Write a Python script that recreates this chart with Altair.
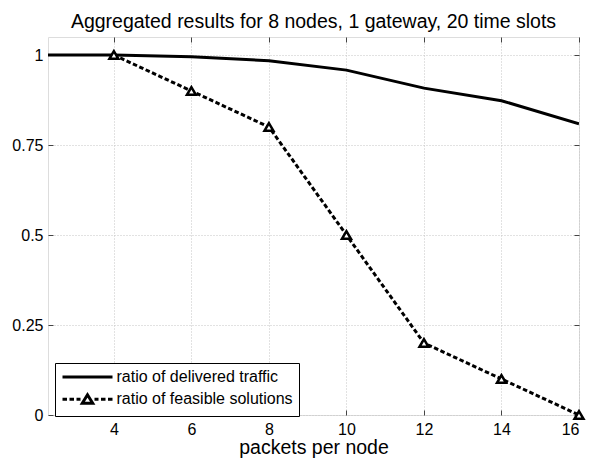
import altair as alt
import pandas as pd

# ---- data ----
x_delivered = [2, 4, 6, 8, 10, 12, 14, 16]
y_delivered = [1.0, 1.0, 0.995, 0.984, 0.958, 0.908, 0.873, 0.809]
x_feasible = [4, 6, 8, 10, 12, 14, 16]
y_feasible = [1.0, 0.9, 0.8, 0.5, 0.2, 0.1, 0.0]
series_names = ["ratio of delivered traffic", "ratio of feasible solutions"]
x_ticks = [4, 6, 8, 10, 12, 14, 16]
y_ticks = [0, 0.25, 0.5, 0.75, 1]
title_text = "Aggregated results for 8 nodes, 1 gateway, 20 time slots"
x_title = "packets per node"

FONT = "Liberation Sans"

df_d = pd.DataFrame({"x": x_delivered, "y": y_delivered, "series": series_names[0]})
df_f = pd.DataFrame({"x": x_feasible, "y": y_feasible, "series": series_names[1]})
df_all = pd.concat([df_d, df_f], ignore_index=True)

xscale = alt.Scale(domain=[2.3, 16], nice=False, zero=False)
yscale = alt.Scale(domain=[0, 1.05], nice=False, zero=False)

TICK_COLOR = "#444444"


def tick_axis(orient, values):
    return alt.Axis(orient=orient, values=values, labels=False, grid=False,
                    domain=False, ticks=True, tickSize=5, offset=-5,
                    tickColor=TICK_COLOR, tickWidth=1, title=None)


main_x_axis = alt.Axis(orient="bottom", values=x_ticks, labelExpr="'' + datum.value",
                       grid=True, ticks=False, tickSize=0, domain=False, labelPadding=6,
                       labelFontSize=16, labelFont=FONT, labelColor="black",
                       title=x_title, titleFontSize=19.5, titleFont=FONT,
                       titleFontWeight="normal", titleColor="black", titlePadding=1,
                       gridColor="#c4c4c4", gridDash=[1, 2], gridWidth=1)
main_y_axis = alt.Axis(orient="left", values=y_ticks, labelExpr="'' + datum.value",
                       grid=True, ticks=False, tickSize=0, domain=False, labelPadding=5,
                       labelFontSize=16, labelFont=FONT, labelColor="black",
                       title=None, gridColor="#c4c4c4", gridDash=[1, 2], gridWidth=1)

solid = alt.Chart(df_d).mark_line(color="black", strokeWidth=3, clip=True).encode(
    x=alt.X("x:Q", scale=xscale, axis=main_x_axis),
    y=alt.Y("y:Q", scale=yscale, axis=main_y_axis),
)

dashed = alt.Chart(df_f).mark_line(color="black", strokeWidth=3,
                                   strokeDash=[4.5, 2.5], clip=False).encode(
    x=alt.X("x:Q", scale=xscale, axis=tick_axis("bottom", x_ticks)),
    y=alt.Y("y:Q", scale=yscale, axis=tick_axis("left", y_ticks)),
)

points = alt.Chart(df_f).mark_point(shape="triangle-up", size=80, filled=True,
                                    fill="white", stroke="black", strokeWidth=2.5,
                                    opacity=1).encode(
    x=alt.X("x:Q", scale=xscale, axis=tick_axis("top", x_ticks)),
    y=alt.Y("y:Q", scale=yscale, axis=tick_axis("right", y_ticks)),
)

# legend symbols (path units: 1 unit = 4 px for symbolSize 64)
path_solid = "M-6.25,0H6.25"
path_dashed = ("M-6.25,0H-5.125M-4.5,0H-3.375M-2.75,0H-1.75"
               "M1.75,0H2.75M3.375,0H4.5M5.125,0H6.25"
               "M0,-1.1L-1.3,1L1.3,1Z")

legend_layer = alt.Chart(df_all).mark_point(opacity=0, filled=False).encode(
    x=alt.X("x:Q", scale=xscale, axis=None),
    y=alt.Y("y:Q", scale=yscale, axis=None),
    shape=alt.Shape("series:N",
                    scale=alt.Scale(domain=series_names, range=[path_solid, path_dashed]),
                    legend=alt.Legend(title=None, orient="none", legendX=7, legendY=326,
                                      fillColor="white", strokeColor="black",
                                      padding=6, symbolSize=64, symbolStrokeWidth=3,
                                      symbolFillColor="white", symbolStrokeColor="black",
                                      symbolOpacity=1, symbolOffset=18.5, labelOffset=21,
                                      labelFontSize=16, labelFont=FONT, labelColor="black",
                                      rowPadding=3.2, labelLimit=400)),
)

chart = alt.layer(solid, dashed, points, legend_layer).resolve_axis(
    x="independent", y="independent"
).properties(
    width=531, height=378,
    padding={"left": 48, "top": 37, "right": 16, "bottom": 44},
    autosize=alt.AutoSizeParams(type="none"),
    title=alt.TitleParams(text=title_text, fontSize=19.5, font=FONT,
                          fontWeight="normal", color="black", anchor="middle",
                          baseline="bottom", offset=-15),
).configure_view(stroke="#333333", strokeWidth=1).configure(background="white")

chart.save("out.html", embed_options={"renderer": "svg", "actions": False})
